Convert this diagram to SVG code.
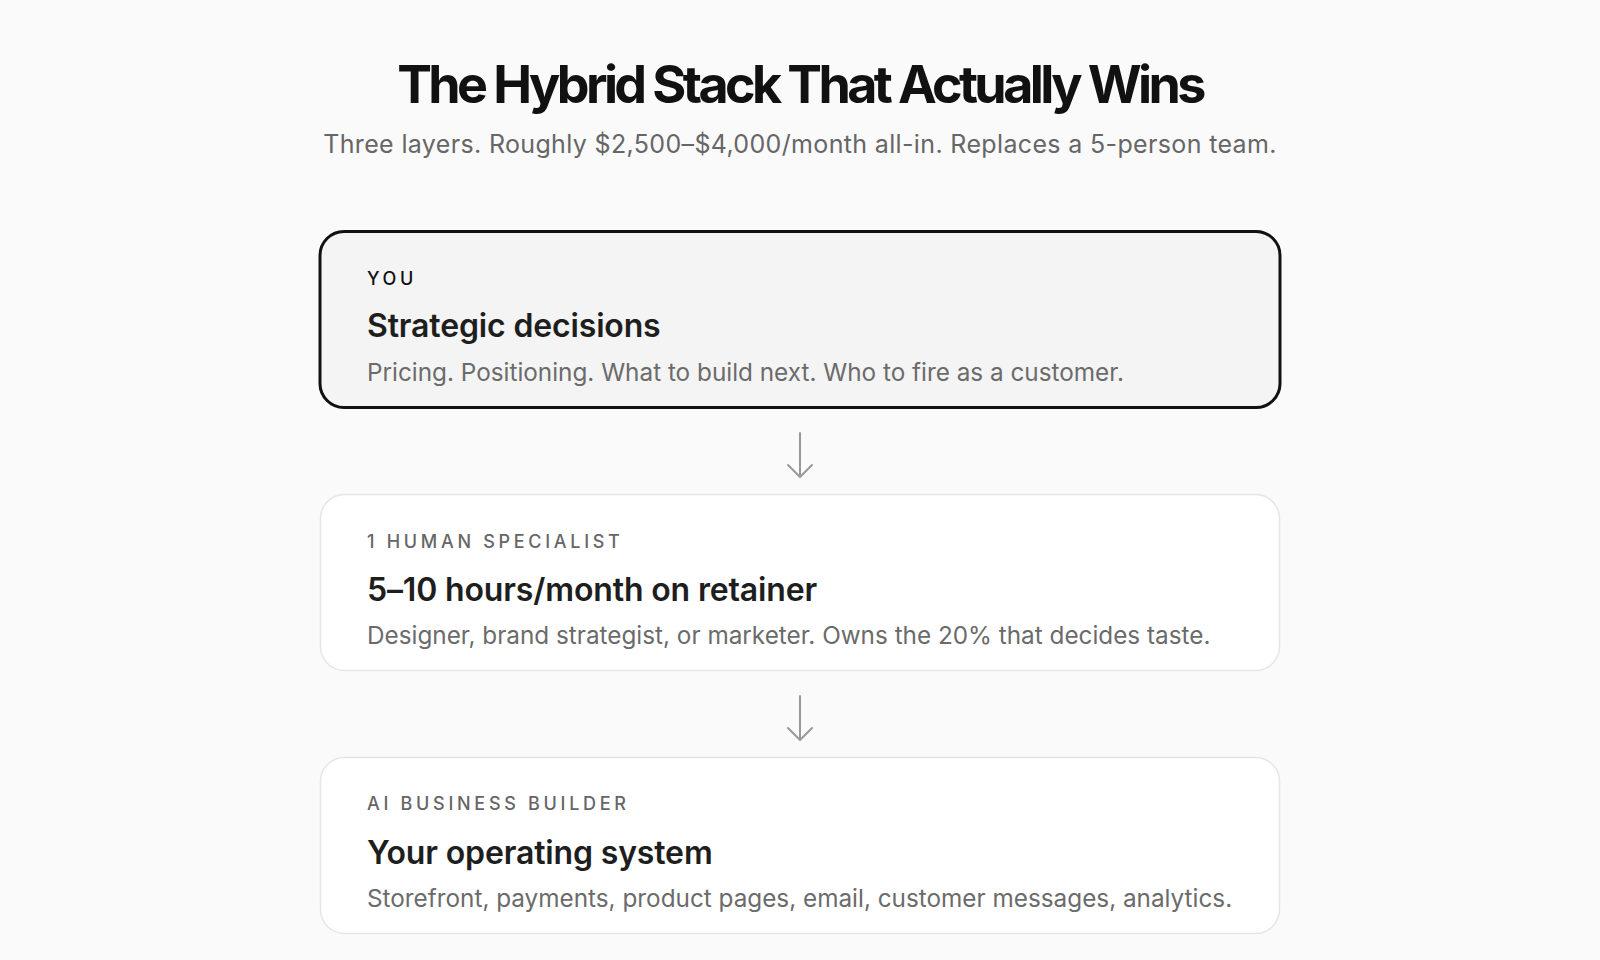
<svg xmlns="http://www.w3.org/2000/svg" width="1600" height="960" viewBox="0 0 1600 960">
<defs>
<style>
.bg{fill:#fafafa}
.title{font-family:Inter,"Liberation Sans",sans-serif;font-weight:700;font-size:52px;fill:#111;letter-spacing:-3.6px}
.sub{font-family:Inter,"Liberation Sans",sans-serif;font-weight:400;font-size:25px;fill:#666;letter-spacing:0.35px}
.card{fill:#fff;stroke:#e6e6e6;stroke-width:1.5}
.card-you{fill:#f4f4f4;stroke:#111;stroke-width:3}
.label{font-family:Inter,"Liberation Sans",sans-serif;font-weight:500;font-size:18px;fill:#666;letter-spacing:3.7px}
.label-you{fill:#111}
.head{font-family:Inter,"Liberation Sans",sans-serif;font-weight:600;font-size:32px;fill:#1e1e1e;letter-spacing:-0.15px}
.desc{font-family:Inter,"Liberation Sans",sans-serif;font-weight:400;font-size:24.3px;fill:#6b6b6b}
.arrow{fill:none;stroke:#999;stroke-width:2;stroke-linecap:round;stroke-linejoin:round}
</style>
</defs>
<rect class="bg" x="0" y="0" width="1600" height="960"/>
<g id="header">
<text class="title" x="800" y="103" text-anchor="middle">The Hybrid Stack That Actually Wins</text>
<text class="sub" x="800" y="153" text-anchor="middle">Three layers. Roughly $2,500–$4,000/month all-in. Replaces a 5-person team.</text>
</g>
<g id="connectors">
<path class="arrow" d="M800 433 V477 M788 465 L800 477 L812 465"/>
<path class="arrow" d="M800 696 V740 M788 728 L800 740 L812 728"/>
</g>
<g id="node-you">
<rect class="card-you" x="320" y="231.5" width="960" height="176" rx="24"/>
<text class="label label-you" x="367" y="285">YOU</text>
<text class="head" x="367" y="337">Strategic decisions</text>
<text class="desc" x="367" y="381">Pricing. Positioning. What to build next. Who to fire as a customer.</text>
</g>
<g id="node-specialist">
<rect class="card" x="320.5" y="494.5" width="959" height="176" rx="24"/>
<text class="label" x="367" y="548">1 HUMAN SPECIALIST</text>
<text class="head" x="367" y="601">5–10 hours/month on retainer</text>
<text class="desc" x="367" y="644">Designer, brand strategist, or marketer. Owns the 20% that decides taste.</text>
</g>
<g id="node-ai">
<rect class="card" x="320.5" y="757.5" width="959" height="176" rx="24"/>
<text class="label" x="367" y="810">AI BUSINESS BUILDER</text>
<text class="head" x="367" y="864">Your operating system</text>
<text class="desc" x="367" y="907">Storefront, payments, product pages, email, customer messages, analytics.</text>
</g>
</svg>
